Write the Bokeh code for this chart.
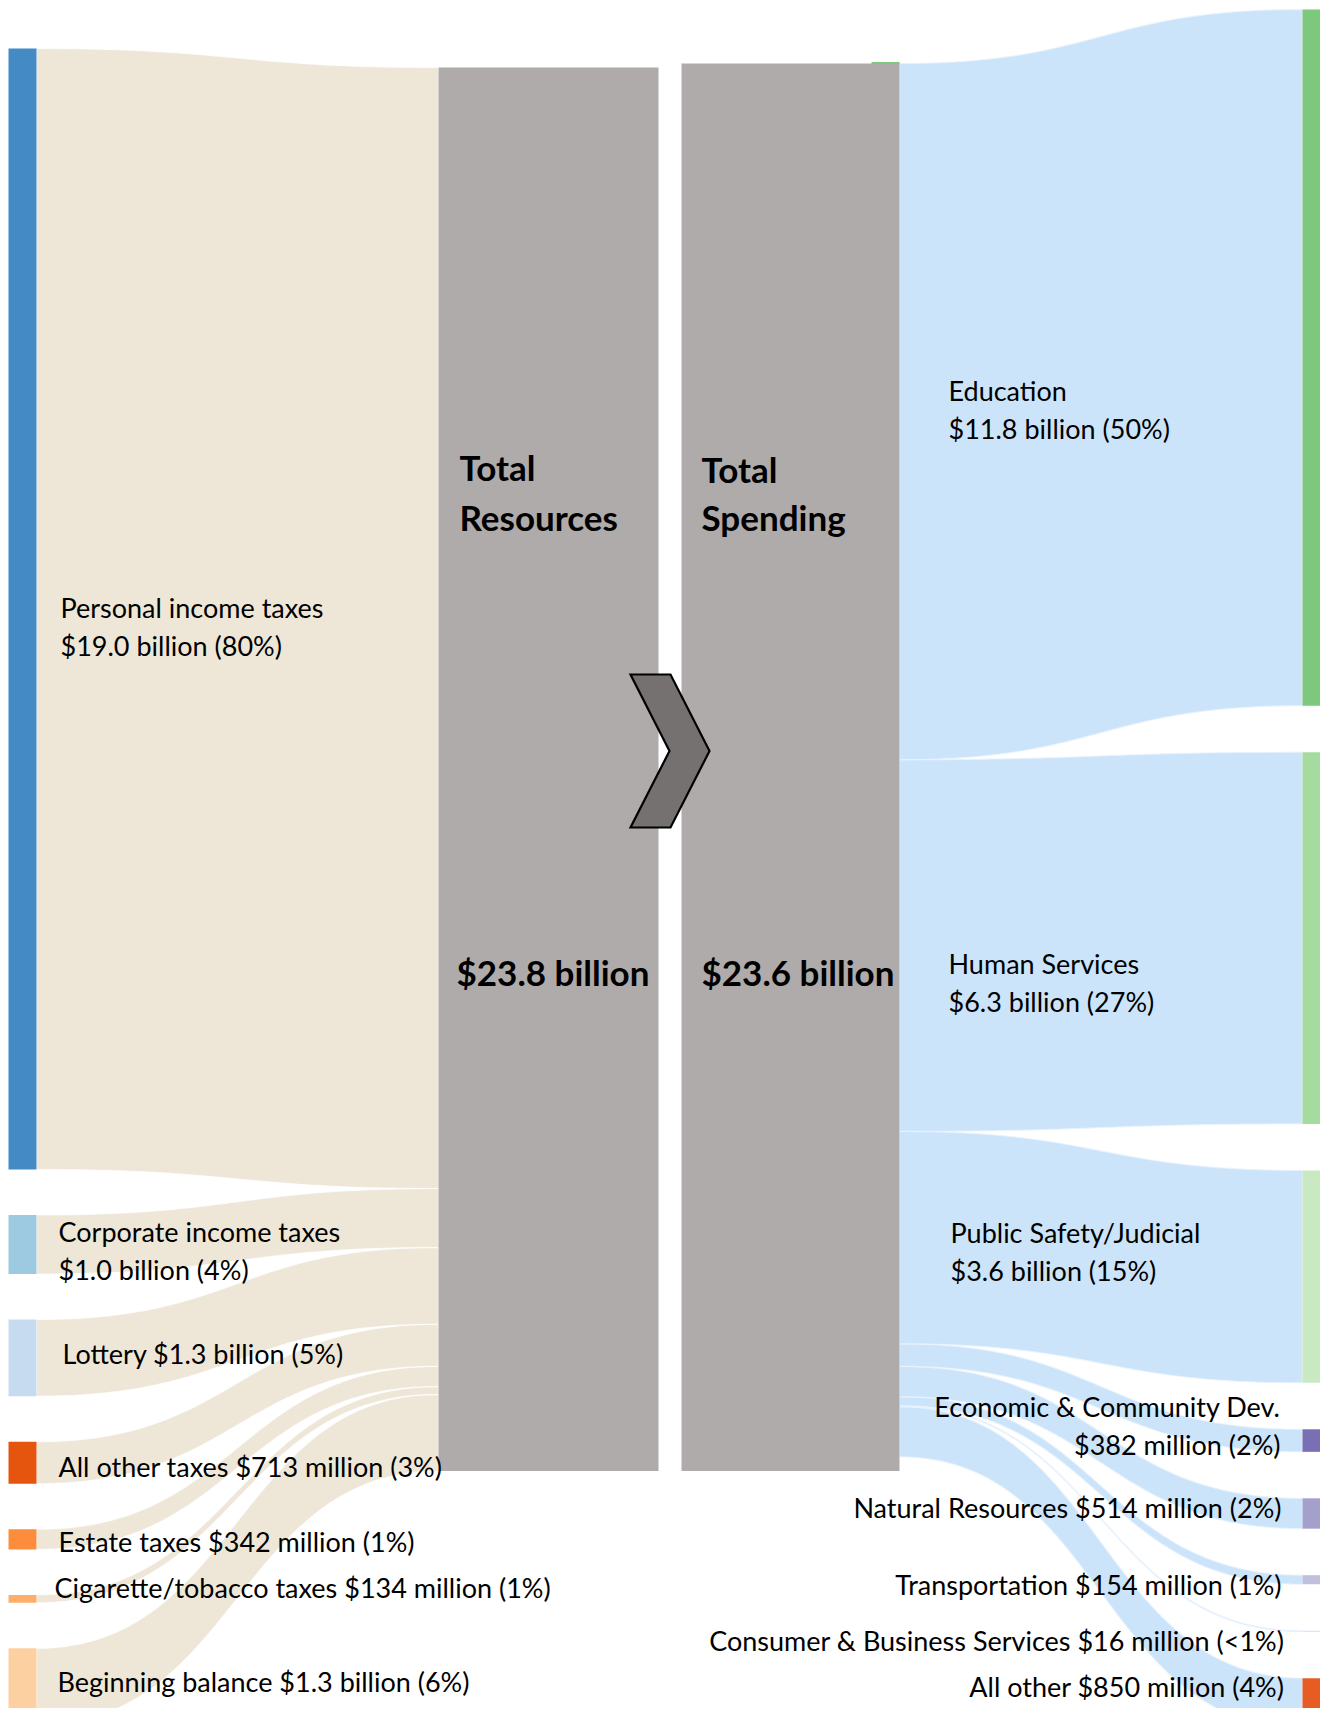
import numpy as np
from bokeh.plotting import figure
from bokeh.models import Range1d
from bokeh.embed import file_html
from bokeh.resources import INLINE
from bokeh.core.properties import value

# ---------------- data (billions of dollars) ----------------
source_names = ["Personal income taxes", "Corporate income taxes", "Lottery",
                "All other taxes", "Estate taxes", "Cigarette/tobacco taxes",
                "Beginning balance"]
source_values = [19.0, 1.0, 1.3, 0.713, 0.342, 0.134, 1.3]
source_labels = [["Personal income taxes", "$19.0 billion (80%)"],
                 ["Corporate income taxes", "$1.0 billion (4%)"],
                 ["Lottery $1.3 billion (5%)"],
                 ["All other taxes $713 million (3%)"],
                 ["Estate taxes $342 million (1%)"],
                 ["Cigarette/tobacco taxes $134 million (1%)"],
                 ["Beginning balance $1.3 billion (6%)"]]
source_colors = ["#448ac4", "#9ecae1", "#c6dbef", "#e6550d", "#fd8d3c", "#fdae6b", "#fdd0a2"]

target_names = ["Education", "Human Services", "Public Safety/Judicial",
                "Economic & Community Dev.", "Natural Resources", "Transportation",
                "Consumer & Business Services", "All other"]
target_values = [11.8, 6.3, 3.6, 0.382, 0.514, 0.154, 0.016, 0.85]
target_labels = [["Education", "$11.8 billion (50%)"],
                 ["Human Services", "$6.3 billion (27%)"],
                 ["Public Safety/Judicial", "$3.6 billion (15%)"],
                 ["Economic & Community Dev.", "$382 million (2%)"],
                 ["Natural Resources $514 million (2%)"],
                 ["Transportation $154 million (1%)"],
                 ["Consumer & Business Services $16 million (<1%)"],
                 ["All other $850 million (4%)"]]
target_colors = ["#7ec87e", "#a6db9f", "#c9e9c2", "#786fb4", "#a4a0cc", "#c0c0de", "#dadaeb", "#e65c22"]

resources_title = ["Total", "Resources"]
spending_title = ["Total", "Spending"]
resources_total = "$23.8 billion"
spending_total = "$23.6 billion"

# ---------------- layout ----------------
W, H = 1320, 1708
K = 59.0                      # px per billion
NODE_W = 28
LEFT_X = 8
RIGHT_X = 1302
RES_X0, RES_X1 = 438, 658
SPD_X0, SPD_X1 = 681, 899
RES_TOP, SPD_TOP = 67, 63
SRC_TOP, SRC_GAP = 48, 45.5
TGT_TOP, TGT_GAP = 9, 46.5
LINE_H = 38
BEIGE = "#eee7d8"
BLUE = "#cce4fa"
BOX = "#afabab"

src_label_dx = [24, 22, 26, 22, 22, 18, 21]
src_label_dy = [-1.5, -13.5, -4.5, 4, 2, -11, -5.5]
tgt_label_align = ["left", "left", "left", "right", "right", "right", "right", "right"]
tgt_label_x = [948, 948, 950, 1280, 1281, 1281, 1284, 1284]
tgt_label_dy = [33, 25.5, -44, -34, -6.5, 4.5, 9, -17]

p = figure(width=W, height=H, output_backend="svg", toolbar_location=None,
           x_range=Range1d(0, W), y_range=Range1d(H, 0),
           min_border=0, outline_line_color=None)
p.axis.visible = False
p.grid.visible = False
p.background_fill_color = "white"


def stack(values, top, gap):
    y0, out = top, []
    for v in values:
        out.append((y0, y0 + v * K))
        y0 += v * K + gap
    return out


def band(xa, xb, ya0, ya1, yb0, yb1, n=60):
    t = np.linspace(0, 1, n)
    xm = (xa + xb) / 2
    bx = (1 - t) ** 3 * xa + 3 * (1 - t) ** 2 * t * xm + 3 * (1 - t) * t ** 2 * xm + t ** 3 * xb

    def by(y0, y1):
        return (1 - t) ** 3 * y0 + 3 * (1 - t) ** 2 * t * y0 + 3 * (1 - t) * t ** 2 * y1 + t ** 3 * y1
    xs = np.concatenate([bx, bx[::-1]])
    ys = np.concatenate([by(ya0, yb0), by(ya1, yb1)[::-1]])
    return list(xs), list(ys)


src_nodes = stack(source_values, SRC_TOP, SRC_GAP)
tgt_nodes = stack(target_values, TGT_TOP, TGT_GAP)
res_slots = stack(source_values, RES_TOP, 0)
spd_slots = stack(target_values, SPD_TOP, 0)

# ---- flows: sources -> total resources
xs_l, ys_l = [], []
for (a0, a1), (b0, b1) in zip(src_nodes, res_slots):
    xx, yy = band(LEFT_X + NODE_W, RES_X0, a0, a1, b0, b1)
    xs_l.append(xx); ys_l.append(yy)
p.patches(xs_l[::-1], ys_l[::-1], fill_color=BEIGE, line_color="white", line_alpha=0.7, line_width=1.2)

# ---- flows: total spending -> targets
xs_r, ys_r = [], []
for (a0, a1), (b0, b1) in zip(spd_slots, tgt_nodes):
    xx, yy = band(SPD_X1, RIGHT_X, a0, a1, b0, b1)
    xs_r.append(xx); ys_r.append(yy)
p.patches(xs_r[::-1], ys_r[::-1], fill_color=BLUE, line_color="#e8f3fd", line_alpha=0.8, line_width=1.2)

# ---- nodes
p.quad(left=[LEFT_X] * len(src_nodes), right=[LEFT_X + NODE_W] * len(src_nodes),
       top=[a for a, b in src_nodes], bottom=[b for a, b in src_nodes],
       fill_color=source_colors, line_color=None)
p.quad(left=[RIGHT_X] * len(tgt_nodes), right=[RIGHT_X + NODE_W] * len(tgt_nodes),
       top=[a for a, b in tgt_nodes], bottom=[b for a, b in tgt_nodes],
       fill_color=target_colors, line_color=None)

# ---- central boxes
box_bottom = RES_TOP + sum(source_values) * K
p.quad(left=[RES_X0, SPD_X0], right=[RES_X1, SPD_X1], top=[RES_TOP, SPD_TOP],
       bottom=[box_bottom, box_bottom], fill_color=BOX, line_color=None)
# thin green edge of the spending node peeking above the box
p.quad(left=[SPD_X1 - 28], right=[SPD_X1], top=[SPD_TOP - 1.5], bottom=[SPD_TOP + 0.5],
       fill_color=target_colors[0], line_color=None)

# ---- chevron
cx, cy = (RES_X1 + SPD_X0) / 2, 750.5
chev_dx = [-39.5, 0.5, 39.5, 0.5, -39.5, -0.5]
chev_dy = [-76.5, -76.5, 0, 76.5, 76.5, 0]
p.patch([cx + d for d in chev_dx], [cy + d for d in chev_dy], fill_color="#767171",
        line_color="black", line_width=2.2, line_join="miter")

FONT = value("Lato")
REG = "27px"
BOLD = "35px"

# ---- source labels
lx, ly, lt = [], [], []
for (a0, a1), lines, dx, dy in zip(src_nodes, source_labels, src_label_dx, src_label_dy):
    c = (a0 + a1) / 2
    for i, s in enumerate(lines):
        lx.append(LEFT_X + NODE_W + dx); ly.append(c + dy + i * LINE_H); lt.append(s)
p.text(lx, ly, lt, text_font=FONT, text_font_size=REG, text_baseline="alphabetic",
       text_align="left", text_color="black")

# ---- target labels
for align in ("left", "right"):
    tx, ty, tt = [], [], []
    for (a0, a1), lines, al, x, dy in zip(tgt_nodes, target_labels, tgt_label_align, tgt_label_x, tgt_label_dy):
        if al != align:
            continue
        c = (a0 + a1) / 2
        for i, s in enumerate(lines):
            tx.append(x); ty.append(c + dy + i * LINE_H); tt.append(s)
    p.text(tx, ty, tt, text_font=FONT, text_font_size=REG, text_baseline="alphabetic",
           text_align=align, text_color="black")

# ---- box titles
p.text([RES_X0 + 21] * 2 + [SPD_X0 + 20] * 2, [466, 516, 468, 516],
       resources_title + spending_title, text_font=FONT, text_font_size=BOLD,
       text_font_style="bold", text_baseline="alphabetic", text_color="black")
p.text([RES_X0 + 18, SPD_X0 + 20], [971, 971], [resources_total, spending_total],
       text_font=FONT, text_font_size=BOLD, text_font_style="bold",
       text_baseline="alphabetic", text_color="black")

open("out.html", "w").write(file_html(p, INLINE))
